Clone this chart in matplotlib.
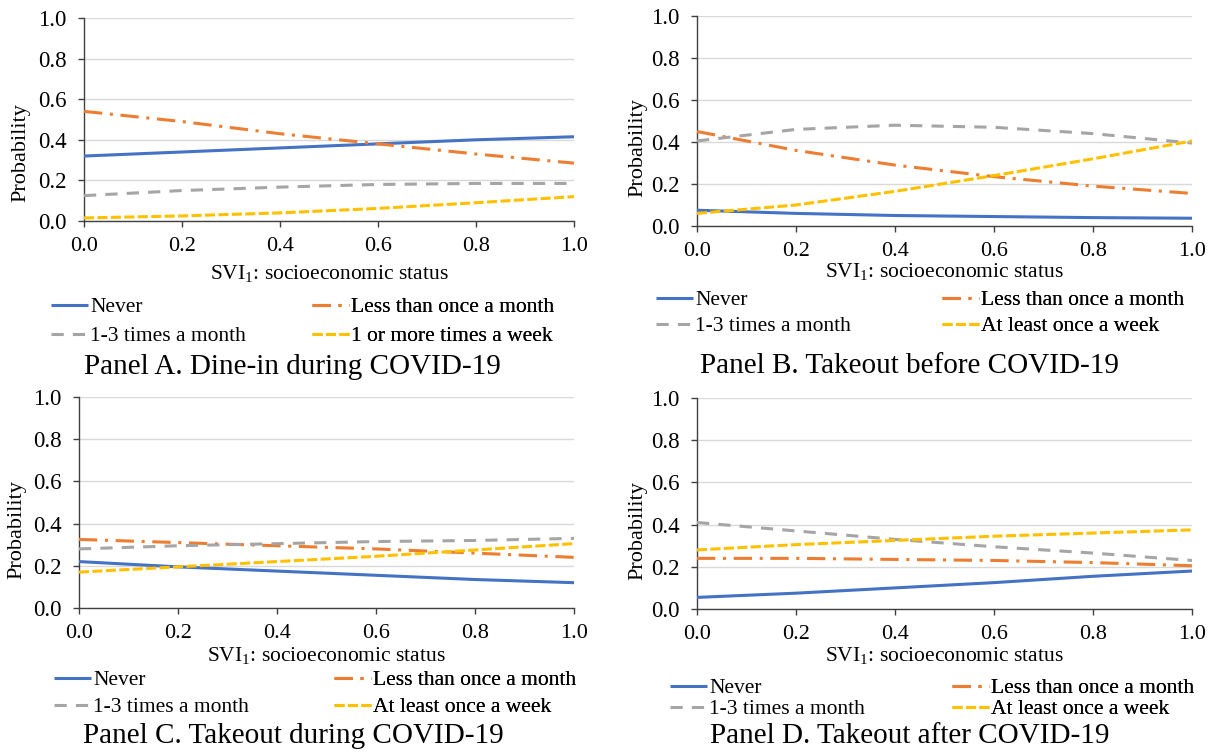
import numpy as np
import matplotlib
matplotlib.use('Agg')
import matplotlib.pyplot as plt

plt.rcParams['font.family'] = ['Liberation Serif', 'DejaVu Serif']
plt.rcParams['mathtext.fontset'] = 'custom'
plt.rcParams['mathtext.rm'] = 'Liberation Serif'
plt.rcParams['mathtext.it'] = 'Liberation Serif:italic'

# x values (SVI1 socioeconomic status)
svi = [0.0, 0.2, 0.4, 0.6, 0.8, 1.0]

# Panel A - dine-in during COVID-19
a_never = [0.32, 0.34, 0.36, 0.38, 0.40, 0.415]
a_less = [0.54, 0.49, 0.43, 0.38, 0.33, 0.285]
a_13 = [0.125, 0.15, 0.167, 0.18, 0.185, 0.185]
a_week = [0.015, 0.025, 0.04, 0.062, 0.09, 0.12]

# Panel B - takeout before COVID-19
b_never = [0.075, 0.06, 0.05, 0.045, 0.04, 0.037]
b_less = [0.45, 0.36, 0.29, 0.235, 0.19, 0.155]
b_13 = [0.405, 0.46, 0.48, 0.47, 0.44, 0.395]
b_week = [0.06, 0.10, 0.165, 0.24, 0.32, 0.405]

# Panel C - takeout during COVID-19
c_never = [0.22, 0.195, 0.175, 0.155, 0.135, 0.12]
c_less = [0.325, 0.31, 0.295, 0.28, 0.26, 0.24]
c_13 = [0.28, 0.295, 0.305, 0.315, 0.32, 0.33]
c_week = [0.17, 0.195, 0.22, 0.245, 0.275, 0.305]

# Panel D - takeout after COVID-19
d_never = [0.055, 0.075, 0.10, 0.125, 0.155, 0.18]
d_less = [0.24, 0.24, 0.235, 0.23, 0.22, 0.205]
d_13 = [0.41, 0.37, 0.33, 0.295, 0.265, 0.23]
d_week = [0.28, 0.305, 0.325, 0.345, 0.36, 0.375]

lab_a = ['Never', 'Less than once a month', '1-3 times a month', '1 or more times a week']
lab_b = ['Never', 'Less than once a month', '1-3 times a month', 'At least once a week']

titles = ['Panel A. Dine-in during COVID-19', 'Panel B. Takeout before COVID-19',
          'Panel C. Takeout during COVID-19', 'Panel D. Takeout after COVID-19']

W, H = 1215, 755
fig = plt.figure(figsize=(W / 100, H / 100), dpi=100)

colors = ['#4472C4', '#ED7D31', '#A5A5A5', '#FFC000']
dashes = [None, (6, 2.5, 1, 2.5), (4, 3), (3.3, 1.1)]
lw = 2.2
fs_leg = 15.5
fs_px = fs_leg * 100 / 72

# layout in pixels: axes left, right, top, bottom ; legend x for columns ; rows y ; etc
panels = [
    dict(box=(84, 574, 18, 221), data=[a_never, a_less, a_13, a_week], labels=lab_a,
         leg_x=(51, 312), leg_y=(305, 335), title_x=84, title_y=367, xl_y=273, yl=(21, 153)),
    dict(box=(697, 1192, 16, 226), data=[b_never, b_less, b_13, b_week], labels=lab_b,
         leg_x=(656, 942), leg_y=(298, 325), title_x=700, title_y=366, xl_y=271, yl=(638, 148)),
    dict(box=(79, 574, 397, 608), data=[c_never, c_less, c_13, c_week], labels=lab_b,
         leg_x=(54, 334), leg_y=(678, 706), title_x=83, title_y=736, xl_y=655, yl=(17, 530)),
    dict(box=(697, 1192, 398, 609), data=[d_never, d_less, d_13, d_week], labels=lab_b,
         leg_x=(670, 952), leg_y=(686, 708), title_x=710, title_y=736, xl_y=655, yl=(638, 531)),
]

for i, p in enumerate(panels):
    l, r, t, b = p['box']
    ax = fig.add_axes([l / W, 1 - b / H, (r - l) / W, (b - t) / H])
    lines = []
    for k, ys in enumerate(p['data']):
        ln, = ax.plot(svi, ys, color=colors[k], lw=lw, clip_on=False,
                      solid_capstyle='butt', dash_capstyle='butt', zorder=3)
        if dashes[k] is not None:
            ln.set_dashes(dashes[k])
        lines.append(ln)
    ax.set_xlim(0, 1)
    ax.set_ylim(0, 1)
    ax.set_xticks(np.arange(0, 1.01, 0.2))
    ax.set_yticks(np.arange(0, 1.01, 0.2))
    ax.xaxis.set_major_formatter(matplotlib.ticker.FormatStrFormatter('%.1f'))
    ax.yaxis.set_major_formatter(matplotlib.ticker.FormatStrFormatter('%.1f'))
    ax.tick_params(axis='x', labelsize=16, length=4.5, width=1, pad=7, color='#404040')
    ax.tick_params(axis='y', labelsize=16.5, length=4.5, width=1, pad=8, color='#404040')
    ax.grid(axis='y', color='#D9D9D9', lw=1)
    ax.set_axisbelow(True)
    for s in ['top', 'right']:
        ax.spines[s].set_visible(False)
    for s in ['left', 'bottom']:
        ax.spines[s].set_color('#404040')
        ax.spines[s].set_linewidth(1)

    fig.text((l + r) / 2 / W, 1 - p['xl_y'] / H, 'SVI$_{1}$: socioeconomic status',
             ha='center', va='center', fontsize=15.5)
    fig.text(p['yl'][0] / W, 1 - p['yl'][1] / H, 'Probability', rotation=90,
             ha='center', va='center', fontsize=16)
    fig.text(p['title_x'] / W, 1 - p['title_y'] / H, titles[i], ha='left', va='center',
             fontsize=21)

    row_gap = (p['leg_y'][1] - p['leg_y'][0] - 0.96 * fs_px) / fs_px
    top_y = p['leg_y'][0] - 8
    for col, idx in enumerate([(0, 2), (1, 3)]):
        lg = ax.legend([lines[j] for j in idx], [p['labels'][j] for j in idx],
                       loc='upper left', bbox_to_anchor=(p['leg_x'][col] / W, 1 - top_y / H),
                       bbox_transform=fig.transFigure, frameon=False, fontsize=fs_leg,
                       handlelength=1.7, handletextpad=0.12, borderpad=0, borderaxespad=0,
                       labelspacing=max(row_gap, 0.0))
        ax.add_artist(lg)

fig.savefig('out.png', dpi=100)
